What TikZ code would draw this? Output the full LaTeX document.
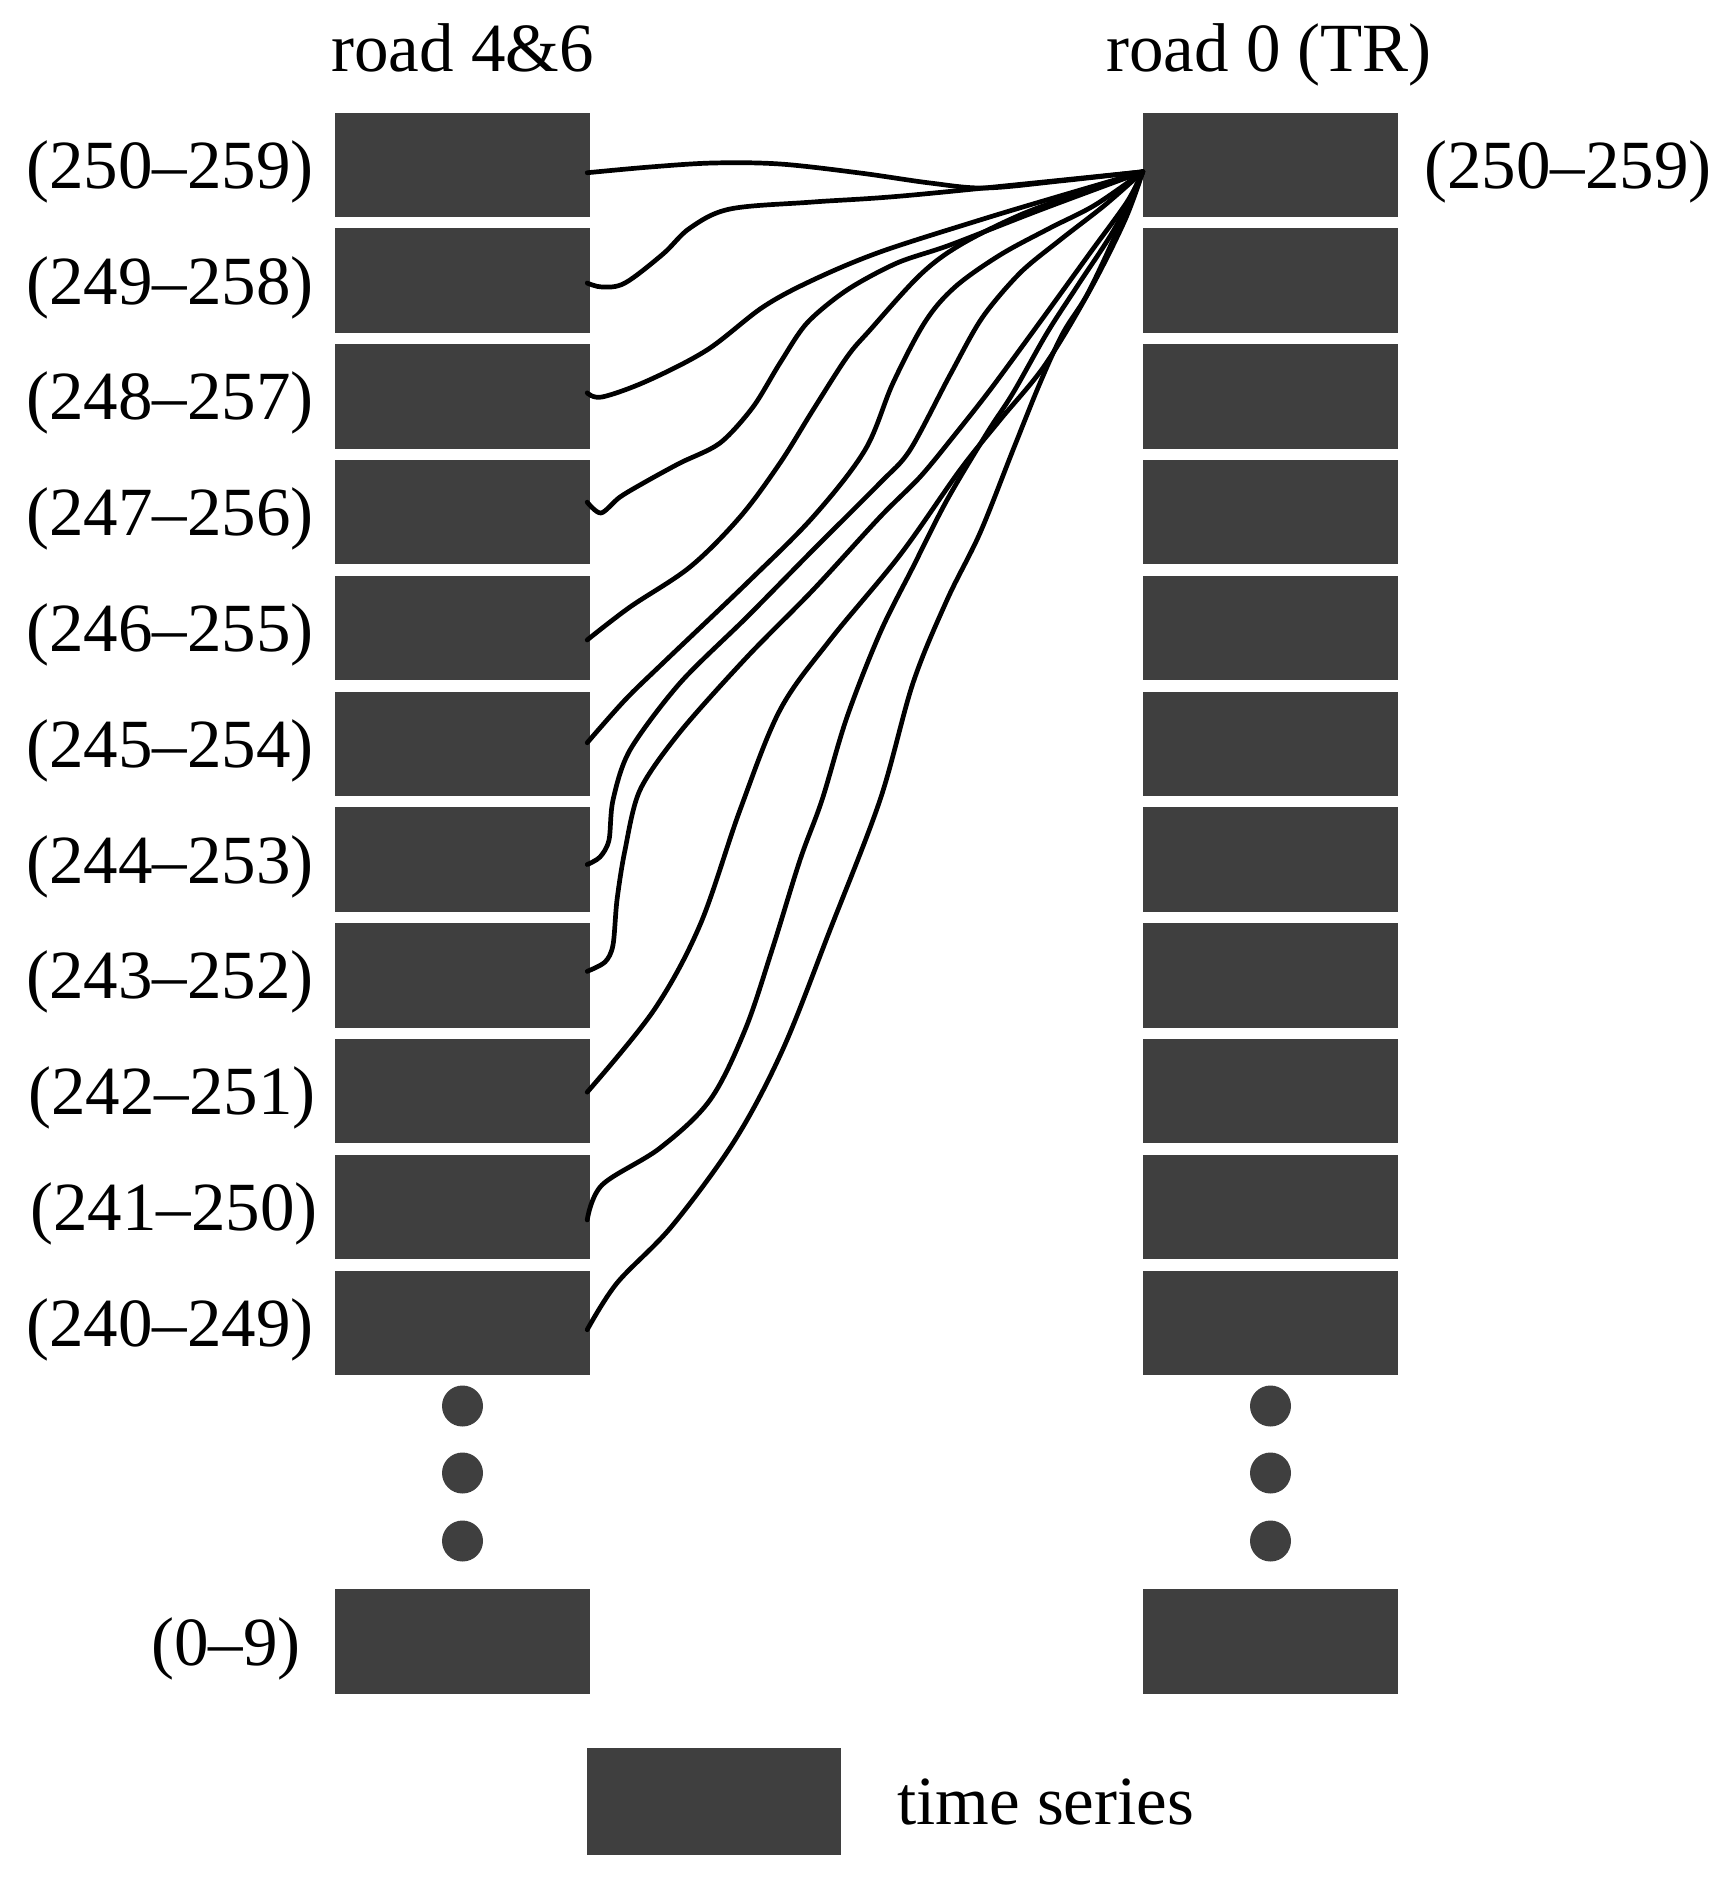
\documentclass[tikz,border=0pt]{standalone}
\usepackage{fontspec}
\setmainfont{Liberation Serif}
\definecolor{boxgray}{RGB}{63,63,63}
\begin{document}
\begin{tikzpicture}[x=1pt,y=-1pt,
  tsbox/.style={fill=boxgray,draw=none,minimum width=255pt,minimum height=104.5pt,inner sep=0pt},
  lbl/.style={font=\fontsize{69}{80}\selectfont,inner sep=0pt},
  link/.style={line width=4.7pt,black,line join=round,line cap=round},
  dotc/.style={circle,fill=boxgray,draw=none,minimum size=41pt,inner sep=0pt}]
\useasboundingbox (0,0) rectangle (1731,1879);
% columns of time-series boxes
\foreach \i in {1,...,11}{
  \pgfmathsetmacro{\yc}{164.75+(\i-1)*115.8}
  \node[tsbox] (l\i) at (462.5,\yc) {};
  \node[tsbox] (r\i) at (1270.5,\yc) {};
}
\node[tsbox] (lb) at (462.5,1641.5) {};
\node[tsbox] (rb) at (1270.5,1641.5) {};
% dots
\foreach \k/\yy in {1/1406,2/1473,3/1541}{
  \node[dotc] (ld\k) at (462.5,\yy) {};
  \node[dotc] (rd\k) at (1270.5,\yy) {};
}
% titles
\node[lbl,anchor=base] (t1) at (462.5,71) {road 4\&6};
\node[lbl,anchor=base] (t2) at (1269,71) {road 0 (TR)};
% left labels
\foreach \i/\txt/\xr in {1/(250–259)/314,2/(249–258)/314,3/(248–257)/314,4/(247–256)/314,5/(246–255)/314,6/(245–254)/314,7/(244–253)/314,8/(243–252)/314,9/(242–251)/316,10/(241–250)/318,11/(240–249)/314}{
  \pgfmathsetmacro{\yb}{164.75+(\i-1)*115.8+23.5}
  \node[lbl,anchor=base east] (lab\i) at (\xr,\yb) {\txt};
}
\node[lbl,anchor=base east] (labb) at (301,1665) {(0–9)};
\node[lbl,anchor=base west] (rlab) at (1424,188) {(250–259)};
% legend
\node[tsbox,minimum width=254pt,minimum height=107pt] (leg) at (714,1801.5) {};
\node[lbl,anchor=base west] (legt) at (897,1824) {time series};
% target point
\coordinate (T) at ([yshift=-7pt]r1.west);
% links
\draw[link] plot[smooth,tension=0.55] coordinates {([xshift=-3pt,yshift=-8pt]l1.east) (650,167) (713,163) (780,164) (860,173) (930,183) (985,188) (1060,181) (T)};
\draw[link] plot[smooth,tension=0.55] coordinates {([xshift=-3pt,yshift=-2.5pt]l2.east) (602,287) (625,283) (663,254) (690,228) (730,209) (813,202) (913,195) (T)};
\draw[link] plot[smooth,tension=0.55] coordinates {([xshift=-3pt,yshift=3.5pt]l3.east) (602,397) (647,381) (707,350) (763,307) (813,280) (880,252) (980,220) (1060,196) (T)};
\draw[link] plot[smooth,tension=0.5] coordinates {([xshift=-3pt,yshift=10pt]l4.east) (601,513) (620,497) (647,481) (680,463) (720,443) (753,407) (780,363) (807,323) (847,290) (897,263) (950,245) (1040,210) (T)};
\draw[link] plot[smooth,tension=0.55] coordinates {([xshift=-3pt,yshift=-12pt]l5.east) (630,607) (690,567) (740,517) (780,463) (813,410) (847,357) (870,330) (920,275) (960,245) (1020,215) (1080,193) (T)};
\draw[link] plot[smooth,tension=0.55] coordinates {([xshift=-3pt,yshift=1pt]l6.east) (625,700) (663,663) (747,583) (813,517) (865,450) (893,383) (925,322) (955,287) (1000,255) (1050,228) (1095,205) (T)};
\draw[link] plot[smooth,tension=0.5] coordinates {([xshift=-3pt,yshift=-5pt]l7.east) (600,857) (609,840) (613,800) (630,750) (680,683) (747,617) (813,550) (880,483) (910,450) (950,375) (982,318) (1020,273) (1060,240) (1105,205) (T)};
\draw[link] plot[smooth,tension=0.5] coordinates {([xshift=-3pt,yshift=4pt]l8.east) (605,962) (613,945) (617,900) (625,850) (640,790) (680,732) (747,657) (813,590) (880,517) (920,477) (953,437) (990,390) (1040,322) (1090,253) (1127,202) (T)};
\draw[link] plot[smooth,tension=0.55] coordinates {([xshift=-3pt,yshift=-1pt]l9.east) (654,1010) (700,925) (740,810) (780,710) (830,640) (900,555) (960,470) (1000,420) (1045,365) (1090,290) (1125,220) (T)};
\draw[link] plot[smooth,tension=0.55] coordinates {([xshift=-3pt,yshift=-13pt]l10.east) (602,1185) (660,1148) (710,1100) (745,1030) (772,950) (800,860) (822,800) (847,717) (880,633) (913,567) (947,500) (987,433) (1013,393) (1047,333) (1078,285) (1115,228) (T)};
\draw[link] plot[smooth,tension=0.55] coordinates {([xshift=-3pt,yshift=-7pt]l11.east) (617,1283) (672,1226) (735,1140) (783,1049) (830,930) (880,800) (913,683) (947,600) (980,533) (1013,450) (1040,383) (1063,333) (1088,293) (1120,225) (T)};
\end{tikzpicture}
\end{document}
